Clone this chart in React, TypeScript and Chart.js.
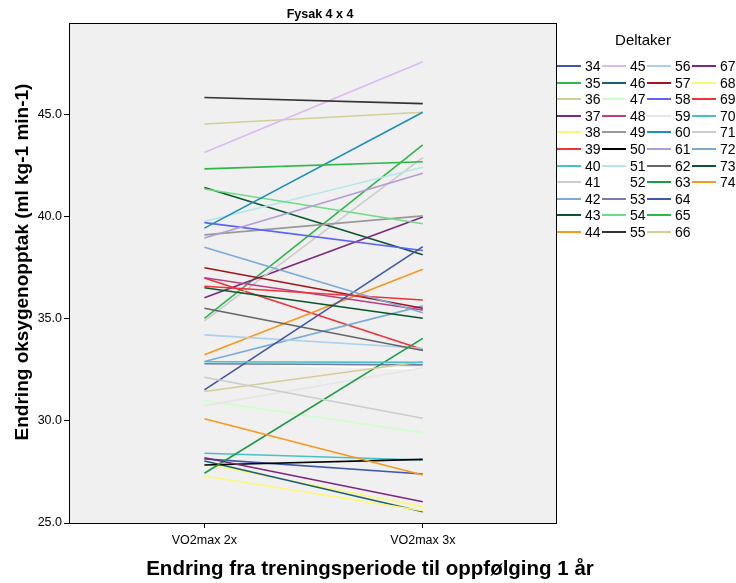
import React, { useEffect, useRef } from "react";
import { Chart, registerables } from "chart.js";

Chart.register(...registerables);

const categories = ["VO2max 2x", "VO2max 3x"];
const participants = [
  "34","35","36","37","38","39","40","41","42","43","44",
  "45","46","47","48","49","50","51","52","53","54","55",
  "56","57","58","59","60","61","62","63","64","65","66",
  "67","68","69","70","71","72","73","74",
];
const valuesStart = [
  28.14, 35.03, 44.55, 36.04, 27.9, 37.0, 28.42, 34.9, 32.91, 41.44, 33.24,
  43.15, 28.04, 31.0, 37.02, 39.12, 27.84, 39.77, 32.85, 32.8, 41.37, 45.85,
  34.22, 37.51, 39.72, 30.75, 39.45, 38.96, 35.52, 27.44, 31.52, 42.35, 31.44,
  28.2, 27.3, 36.6, 32.9, 32.14, 38.51, 36.53, 30.11,
];
const valuesEnd = [
  27.4, 43.53, 45.13, 40.0, 25.8, 33.5, 28.09, 42.9, 35.64, 38.14, 37.43,
  47.6, 25.55, 29.43, 35.44, 40.05, 28.12, 42.43, 32.55, 32.75, 39.66, 45.55,
  33.56, 35.52, 38.35, 32.6, 45.13, 42.14, 33.45, 34.05, 38.54, 42.7, 32.9,
  26.04, 25.6, 35.93, 32.87, 30.13, 35.3, 35.03, 27.35,
];
const palette30 = [
  "#3E58AC","#2EB848","#D3CE97","#7C287D","#FBF873","#EF3338","#48C2C5","#CCCCCC","#7AAAD5","#0A562C",
  "#F8981D","#DDB9F1","#1A5F76","#CCFFCC","#BB3F7F","#999999","#000000","#B6E7E8","#FFFFFF","#797AA7",
  "#70DC84","#333333","#ACD0EE","#A21619","#5D61FF","#E6E6E6","#1B90B8","#B39CD3","#666666","#199B48",
];
const yTicks = [25, 30, 35, 40, 45];

const FONT = "'Liberation Sans', Arial, sans-serif";

export default function App() {
  const ref = useRef<HTMLCanvasElement>(null);
  useEffect(() => {
    const ctx = ref.current!.getContext("2d")!;
    const datasets = participants.map((p, i) => ({
      label: p,
      data: [
        { x: 0, y: valuesStart[i] },
        { x: 1, y: valuesEnd[i] },
      ],
      borderColor: palette30[i % 30],
      backgroundColor: palette30[i % 30],
      borderWidth: 1.6,
      pointRadius: 0,
      tension: 0,
      order: participants.length - i,
    }));
    const boxPlugin = {
      id: "box",
      beforeDatasetsDraw(chart: any) {
        const { ctx, chartArea: a } = chart;
        ctx.save();
        ctx.fillStyle = "#F0F0F0";
        ctx.fillRect(a.left, a.top, a.right - a.left, a.bottom - a.top);
        ctx.restore();
      },
      afterDraw(chart: any) {
        const { ctx, chartArea: a } = chart;
        ctx.save();
        ctx.strokeStyle = "#000";
        ctx.lineWidth = 1;
        ctx.strokeRect(Math.round(a.left) + 0.5, Math.round(a.top) + 0.5, Math.round(a.right - a.left), Math.round(a.bottom - a.top));
        ctx.restore();
      },
    };
    const chart = new Chart(ctx, {
      type: "line",
      data: { datasets },
      plugins: [boxPlugin],
      options: {
        animation: false,
        responsive: false,
        maintainAspectRatio: false,
        layout: { padding: { top: 23, right: 180, left: 0, bottom: 0 } },
        plugins: { legend: { display: false }, tooltip: { enabled: false }, title: { display: false } },
        scales: {
          x: {
            type: "linear",
            min: -0.62,
            max: 1.61,
            afterBuildTicks: (s: any) => { s.ticks = [{ value: 0 }, { value: 1 }]; },
            afterFit: (s: any) => { s.height = 60; },
            ticks: {
              callback: (v: any) => categories[v as number] ?? "",
              color: "#000",
              font: { family: FONT, size: 12.5 },
              padding: 5,
              maxRotation: 0,
            },
            grid: { display: true, drawOnChartArea: false, drawTicks: true, tickLength: 5, color: "#000" },
            border: { display: false },
          },
          y: {
            type: "linear",
            min: 25,
            max: 49.5,
            afterBuildTicks: (s: any) => { s.ticks = yTicks.map((v) => ({ value: v })); },
            afterFit: (s: any) => { s.width = 69; },
            ticks: {
              callback: (v: any) => Number(v).toFixed(1),
              color: "#000",
              font: { family: FONT, size: 12.5 },
              padding: 2,
            },
            grid: { display: true, drawOnChartArea: false, drawTicks: true, tickLength: 5, color: "#000" },
            border: { display: false },
          },
        },
      } as any,
    });
    return () => chart.destroy();
  }, []);

  const colX = [557, 602, 647, 692];
  const rowsPerCol = 11;
  return (
    <div style={{ position: "absolute", left: 0, top: 0, width: 736, height: 583, background: "#fff", fontFamily: FONT, color: "#000", overflow: "hidden" }}>
      <canvas ref={ref} width={736} height={583} style={{ position: "absolute", left: 0, top: 0, width: 736, height: 583 }} />
      <div style={{ position: "absolute", left: 220, width: 200, top: 7, textAlign: "center", fontSize: 12.5, fontWeight: "bold", lineHeight: "14px" }}>Fysak 4 x 4</div>
      <div style={{ position: "absolute", left: 0, width: 740, top: 556, textAlign: "center", fontSize: 20.5, fontWeight: "bold", lineHeight: "24px", whiteSpace: "nowrap" }}>
        Endring fra treningsperiode til oppfølging 1 år
      </div>
      <div style={{ position: "absolute", left: 22, top: 262, width: 0, height: 0 }}>
        <div style={{ position: "absolute", left: -250, top: -12, width: 500, textAlign: "center", fontSize: 19, fontWeight: "bold", lineHeight: "24px", transform: "rotate(-90deg)", whiteSpace: "nowrap" }}>
          Endring oksygenopptak (ml kg-1 min-1)
        </div>
      </div>
      <div style={{ position: "absolute", left: 578, width: 130, top: 31, textAlign: "center", fontSize: 15, lineHeight: "18px" }}>Deltaker</div>
      {participants.map((p, i) => {
        const c = Math.floor(i / rowsPerCol);
        const r = i % rowsPerCol;
        const cy = 66 + r * 16.6;
        return (
          <div key={p} style={{ position: "absolute", left: colX[c], top: cy - 9, height: 18, display: "flex", alignItems: "center" }}>
            <div style={{ width: 24, height: 2, background: palette30[i % 30] }} />
            <span style={{ marginLeft: 4, fontSize: 14, lineHeight: "18px" }}>{p}</span>
          </div>
        );
      })}
    </div>
  );
}
